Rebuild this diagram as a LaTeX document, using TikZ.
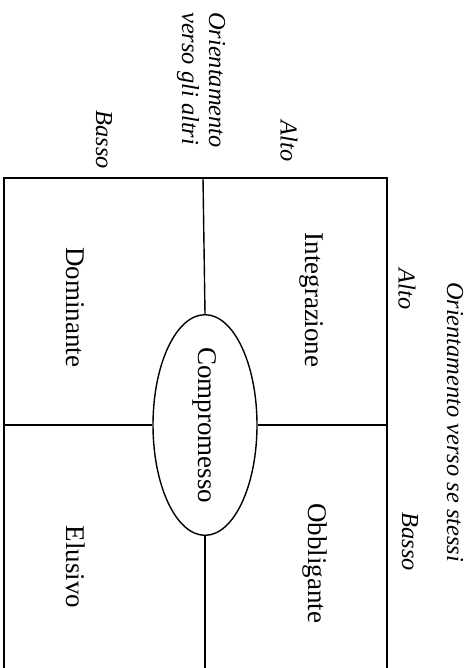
\documentclass[tikz,border=0pt]{standalone}
\usepackage{fontspec}
\setmainfont{Liberation Serif}
\usetikzlibrary{shapes.geometric, positioning}

\begin{document}
\begin{tikzpicture}[
    x=0.5pt, y=-0.5pt,
    label/.style={rotate=-90, inner sep=0pt, font=\fontsize{13.5}{16}\selectfont},
    axis/.style={rotate=-90, inner sep=0pt, align=left, font=\fontsize{12.2}{13.5}\selectfont\itshape},
    frame/.style={line width=0.7pt}
]
\useasboundingbox (0,0) rectangle (475,668);

% Nodes
\node[ellipse, draw, frame, minimum width=110pt, minimum height=52pt, inner sep=0pt, rotate=-90,
      font=\fontsize{13.5}{16}\selectfont] (comp) at (205,425) {Compromesso};
\node[label] (integr) at (312,300) {Integrazione};
\node[label] (domin) at (75,307) {Dominante};
\node[label] (obblig) at (315,563) {Obbligante};
\node[label] (elus) at (76,567) {Elusivo};

\node[axis] (altri) at (201,80) {Orientamento\\verso gli altri};
\node[axis] (altoT) at (289,141) {Alto};
\node[axis] (bassoT) at (104,140) {Basso};
\node[axis] (stessi) at (455,422) {Orientamento verso se stessi};
\node[axis] (altoR) at (407,289) {Alto};
\node[axis] (bassoR) at (410,542) {Basso};

% Frame
\coordinate (tl) at (4,178);
\coordinate (tr) at (387,178);
\coordinate (bl) at (4,668);
\coordinate (br) at (387,668);
\coordinate (tm) at (203,178);
\coordinate (bm) at (205,668);
\coordinate (ml) at (4,425);
\coordinate (mr) at (387,425);

% Lines
\draw[frame] (bl) -- (tl) -- (tr) -- (br);
\draw[frame] (tm) -- (comp.west);
\draw[frame] (comp.east) -- (bm);
\draw[frame] (ml) -- (comp.south);
\draw[frame] (comp.north) -- (mr);

\end{tikzpicture}
\end{document}
